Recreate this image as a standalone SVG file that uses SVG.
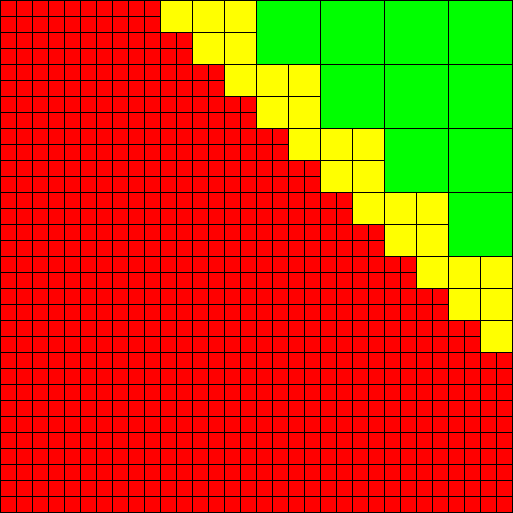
<svg xmlns="http://www.w3.org/2000/svg" width="513" height="513" viewBox="0 0 513 513">
<style>
.y{fill:#ffff00;stroke:#000;stroke-width:1}
.g{fill:#00ff00;stroke:#000;stroke-width:1}
</style>
<defs>
<pattern id="redgrid" patternUnits="userSpaceOnUse" x="0" y="0" width="16" height="16">
<rect x="0" y="0" width="16" height="16" fill="#ff0000"/>
<rect x="0" y="0" width="16" height="1" fill="#000"/>
<rect x="0" y="0" width="1" height="16" fill="#000"/>
</pattern>
</defs>
<g id="red-cells">
<rect x="0" y="0" width="513" height="513" fill="url(#redgrid)"/>
</g>
<g id="yellow-cells" transform="translate(0.5,0.5)">
<rect class="y" x="160" y="0" width="32" height="32"/>
<rect class="y" x="192" y="0" width="32" height="32"/>
<rect class="y" x="224" y="0" width="32" height="32"/>
<rect class="y" x="192" y="32" width="32" height="32"/>
<rect class="y" x="224" y="32" width="32" height="32"/>
<rect class="y" x="224" y="64" width="32" height="32"/>
<rect class="y" x="256" y="64" width="32" height="32"/>
<rect class="y" x="288" y="64" width="32" height="32"/>
<rect class="y" x="256" y="96" width="32" height="32"/>
<rect class="y" x="288" y="96" width="32" height="32"/>
<rect class="y" x="288" y="128" width="32" height="32"/>
<rect class="y" x="320" y="128" width="32" height="32"/>
<rect class="y" x="352" y="128" width="32" height="32"/>
<rect class="y" x="320" y="160" width="32" height="32"/>
<rect class="y" x="352" y="160" width="32" height="32"/>
<rect class="y" x="352" y="192" width="32" height="32"/>
<rect class="y" x="384" y="192" width="32" height="32"/>
<rect class="y" x="416" y="192" width="32" height="32"/>
<rect class="y" x="384" y="224" width="32" height="32"/>
<rect class="y" x="416" y="224" width="32" height="32"/>
<rect class="y" x="416" y="256" width="32" height="32"/>
<rect class="y" x="448" y="256" width="32" height="32"/>
<rect class="y" x="480" y="256" width="32" height="32"/>
<rect class="y" x="448" y="288" width="32" height="32"/>
<rect class="y" x="480" y="288" width="32" height="32"/>
<rect class="y" x="480" y="320" width="32" height="32"/>
</g>
<g id="green-cells" transform="translate(0.5,0.5)">
<rect class="g" x="256" y="0" width="64" height="64"/>
<rect class="g" x="320" y="0" width="64" height="64"/>
<rect class="g" x="384" y="0" width="64" height="64"/>
<rect class="g" x="448" y="0" width="64" height="64"/>
<rect class="g" x="320" y="64" width="64" height="64"/>
<rect class="g" x="384" y="64" width="64" height="64"/>
<rect class="g" x="448" y="64" width="64" height="64"/>
<rect class="g" x="384" y="128" width="64" height="64"/>
<rect class="g" x="448" y="128" width="64" height="64"/>
<rect class="g" x="448" y="192" width="64" height="64"/>
</g>
</svg>
